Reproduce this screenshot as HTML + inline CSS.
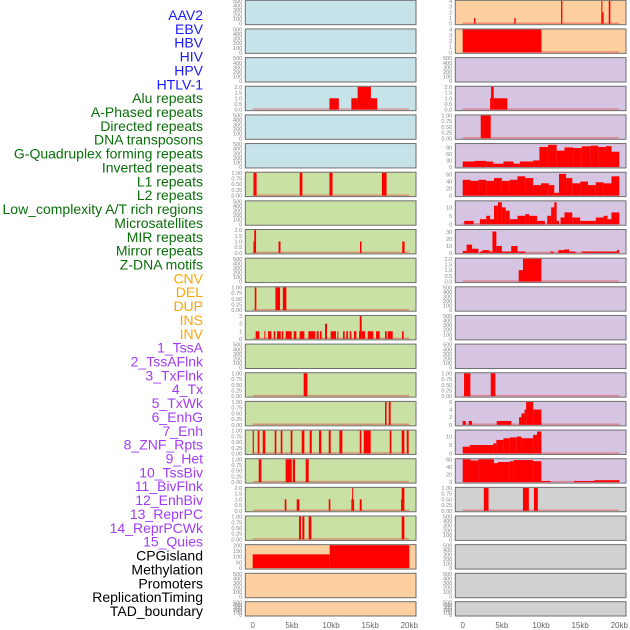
<!DOCTYPE html>
<html><head><meta charset="utf-8">
<style>
html,body{margin:0;padding:0;background:#fff;width:630px;height:630px;overflow:hidden}
svg{display:block}
.lab{font-family:"Liberation Sans",sans-serif;font-size:14px}
.tk{font-family:"Liberation Sans",sans-serif;font-size:5.6px;fill:#888}
.xt{font-family:"Liberation Sans",sans-serif;font-size:8px;fill:#666}
</style></head>
<body>
<svg id="chart" width="630" height="630" viewBox="0 0 630 630" xmlns="http://www.w3.org/2000/svg"></svg>
<script>
// ---- labels ----
const trackLabels = ["AAV2","EBV","HBV","HIV","HPV","HTLV-1","Alu repeats","A-Phased repeats","Directed repeats","DNA transposons","G-Quadruplex forming repeats","Inverted repeats","L1 repeats","L2 repeats","Low_complexity A/T rich regions","Microsatellites","MIR repeats","Mirror repeats","Z-DNA motifs","CNV","DEL","DUP","INS","INV","1_TssA","2_TssAFlnk","3_TxFlnk","4_Tx","5_TxWk","6_EnhG","7_Enh","8_ZNF_Rpts","9_Het","10_TssBiv","11_BivFlnk","12_EnhBiv","13_ReprPC","14_ReprPCWk","15_Quies","CPGisland","Methylation","Promoters","ReplicationTiming","TAD_boundary"];
const labelGroups = ["virus","virus","virus","virus","virus","virus","rep","rep","rep","rep","rep","rep","rep","rep","rep","rep","rep","rep","rep","sv","sv","sv","sv","sv","hmm","hmm","hmm","hmm","hmm","hmm","hmm","hmm","hmm","hmm","hmm","hmm","hmm","hmm","hmm","oth","oth","oth","oth","oth"];
const xTickValues = [0,5,10,15,20];
const xTickLabels = ["0","5kb","10kb","15kb","20kb"];
// ---- left column panel data: [startKb, endKb, value] ----
const L4 = [[9.8,11.0,1],[12.6,13.4,1],[13.4,15.1,2],[15.1,15.9,1]];
const L7 = [[0.1,0.5,1],[6.0,6.35,1],[9.8,10.2,1],[16.5,17.1,1]];
const L9 = [[0.1,0.2,1],[0.2,0.43,2],[3.3,3.55,1],[13.7,13.9,1],[19.1,19.4,1]];
const L11 = [[0.26,0.47,1],[2.9,3.5,1],[3.85,4.3,1]];
const L12 = [[0.38,0.85,1],[1.49,1.62,1],[1.96,2.38,1],[2.68,2.89,1],[3.11,3.58,1],[3.7,3.92,1],[4.21,4.98,1],[5.24,5.58,1],[6.0,6.6,1],[7.11,8.0,1],[8.17,8.43,1],[8.6,8.81,1],[9.24,9.49,2],[9.96,10.64,1],[10.81,10.94,1],[11.54,11.75,1],[11.96,12.18,1],[12.39,12.6,1],[12.94,13.24,1],[13.58,13.67,1],[13.67,13.92,3],[13.92,14.35,1],[14.69,15.41,1],[15.75,16.22,1],[16.9,17.11,1],[17.24,17.88,1],[19.07,19.28,1]];
const L14 = [[6.51,6.98,1]];
const L15 = [[16.9,17.1,1],[17.37,17.62,1]];
const L16 = [[0,0.15,1],[0.64,0.85,1],[1.28,1.62,1],[2.81,3.02,1],[3.58,3.79,1],[4.85,5.07,1],[6.26,6.6,1],[7.28,7.54,1],[8.47,8.77,1],[9.71,9.96,1],[11.07,11.45,1],[13.67,13.88,1],[14.18,15.07,1],[17.5,17.71,1],[19.03,19.37,1],[19.67,19.92,1]];
const L17 = [[0.77,1.11,1],[4.21,4.98,1],[5.11,5.41,1],[6.77,7.15,1]];
const L18 = [[4.09,4.3,1],[5.62,5.96,1],[9.71,9.92,1],[12.6,12.7,1],[12.7,12.8,2],[12.8,12.95,1],[13.67,13.92,1],[18.95,19.03,1],[19.03,19.37,2]];
const L19 = [[5.92,6.17,1],[6.34,6.6,1],[7.15,7.49,1],[19.03,19.37,1]];
const L20 = [[0,9.83,120],[9.83,20.0,200]];
// ---- right column panel data ----
const R1 = [[1.45,1.62,1],[6.6,6.77,1],[12.56,12.73,4],[17.7,17.84,4],[17.84,18.0,2],[18.65,18.86,4]];
const R2 = [[0,10.05,4]];
const R4 = [[3.5,3.62,1],[3.62,3.96,2],[3.96,5.7,1]];
const R5 = [[2.3,3.58,1]];
const R6 = [[0,1.5,25],[1.5,3,28],[3,3.9,25],[3.9,5.2,15],[5.2,6.5,25],[6.5,7.3,15],[7.3,9,25],[9,9.8,30],[9.8,10.9,92],[10.9,12,102],[12,13,75],[13,14.1,90],[14.1,15.2,87],[15.2,16.3,95],[16.3,17.3,98],[17.3,18.3,92],[18.3,19,96],[19,20,70]];
const R7 = [[0,1,45],[1,2,42],[2,3,45],[3,4,42],[4,5,50],[5,6,42],[6,7,45],[7,8,55],[8,9,50],[9,10,30],[10,11,35],[11,11.7,30],[11.7,12.3,8],[12.3,13.2,62],[13.2,14,50],[14,15,35],[15,16,40],[16,17,30],[17,18,38],[18,19,35],[19,20,55]];
const R8 = [[0.2,1.4,2],[2.2,3,3],[3,3.5,5],[3.5,4,3],[4,4.5,11],[4.5,5,13],[5,5.5,10],[5.5,6,8],[6,7,3],[7,8,5],[8,8.5,6],[8.5,9.5,5],[9.5,10.5,2],[10.8,11.3,5],[11.3,11.7,10],[11.7,12,13],[12,12.3,2],[12.5,13,4],[13,14,7],[14,15,4],[15,16,2],[16,17,2],[17,18,4],[18,18.5,5],[18.5,19,3],[19,20,7]];
const R9 = [[0,0.5,3],[0.5,1.2,12],[1.2,2,6],[2.2,2.5,2],[2.5,3.4,4],[3.4,3.8,2],[3.8,4.3,31],[4.3,5,10],[5,6.2,2],[6.2,7,10],[7,8,2],[11.2,11.6,2],[12.2,13,4],[13,13.6,5],[13.6,14.4,2],[15.2,17,2],[17,19.7,2],[19.7,20,4]];
const R10 = [[7.15,7.7,1],[7.7,10.05,2]];
const R14 = [[0.17,0.98,1],[3.58,4.17,1]];
const R15 = [[0,0.4,1],[0.77,1.2,1],[4.35,6.2,1],[7.2,7.5,2],[7.5,7.9,3],[7.9,8.1,4],[8.1,9,6],[9,10.05,4]];
const R16 = [[0,0.9,4],[0.9,3.9,5],[3.9,4.3,6],[4.3,5.2,8],[5.2,6,9],[6,6.9,9.5],[6.9,7.5,10],[7.5,9,9],[9,9.5,11],[9.5,10.05,13]];
const R17 = [[0,1,60],[1,2,57],[2,4,60],[4,4.5,50],[4.5,6,53],[6,6.5,55],[6.5,9,58],[9,10.05,55],[10.05,11.2,3],[14.2,16.8,3],[16.8,20,5]];
const R18 = [[2.7,3.3,1],[7.7,8.45,1],[9.1,9.6,1]];
// ---- panel definitions: data, ymax, tick values ----
const emptyTicks = [0,100,200,300,400,500];
const leftData = [null,null,null,L4,null,null,L7,null,L9,null,L11,L12,null,L14,L15,L16,L17,L18,L19,L20,null,null];
const leftMax = [500,500,500,2,500,500,1,500,2,500,1,3,500,1,1,1,1,2,1,200,500,500];
const leftTicks = [emptyTicks,emptyTicks,emptyTicks,[0,0.5,1,1.5,2],emptyTicks,emptyTicks,[0,0.25,0.5,0.75,1],emptyTicks,[0,0.5,1,1.5,2],emptyTicks,[0,0.25,0.5,0.75,1],[0,1,2,3],emptyTicks,[0,0.25,0.5,0.75,1],[0,0.25,0.5,0.75,1],[0,0.25,0.5,0.75,1],[0,0.25,0.5,0.75,1],[0,0.5,1,1.5,2],[0,0.25,0.5,0.75,1],[0,50,100,150,200],emptyTicks,emptyTicks];
const leftBg = ["b","b","b","b","b","b","g","g","g","g","g","g","g","g","g","g","g","g","g","o","o","o"];
const rightData = [R1,R2,null,R4,R5,R6,R7,R8,R9,R10,null,null,null,R14,R15,R16,R17,R18,null,null,null,null];
const rightMax = [4,4,500,2,1,105,65,13.5,33,2,500,500,500,1,6,13.5,60,1,500,500,500,500];
const rightTicks = [[0,1,2,3,4],[0,1,2,3,4],emptyTicks,[0,0.5,1,1.5,2],[0,0.25,0.5,0.75,1],[0,30,60,90],[0,20,40,60],[0,5,10],[0,10,20,30],[0,0.5,1,1.5,2],emptyTicks,emptyTicks,emptyTicks,[0,0.25,0.5,0.75,1],[0,2,4,6],[0,5,10],[0,20,40,60],[0,0.25,0.5,0.75,1],emptyTicks,emptyTicks,emptyTicks,emptyTicks];
const rightBg = ["o","o","p","p","p","p","p","p","p","p","p","p","p","p","p","p","p","y","y","y","y","y"];

const NS="http://www.w3.org/2000/svg";
const svg=document.getElementById('chart');
const bgColors={b:"#c7e3ea",g:"#c9e1a5",o:"#fecf9f",p:"#d6c5e2",y:"#d1d1d1"};
const groupColors={virus:"#1a1aff",rep:"#0a6e0a",sv:"#ffa500",hmm:"#a23cf5",oth:"#000"};
function el(t,a){const e=document.createElementNS(NS,t);for(const k in a)e.setAttribute(k,a[k]);svg.appendChild(e);return e;}
function fmt(v,ticks){const mx=Math.max(...ticks);if(mx<=1)return v.toFixed(2);if(mx<=2)return v.toFixed(1);return String(v);}

// labels
trackLabels.forEach((t,i)=>{
  const e=el('text',{x:203,y:15+i*13.86+5,'text-anchor':'end',class:'lab',fill:groupColors[labelGroups[i]]});
  e.textContent=t;
  
  
});

function rowTop(i){return i<21?0.3+i*28.65:601.7;}
function rowH(i){return i<21?24.4:14.3;}

function drawPanel(col,i,data,ymax,ticks,bg){
  const px0=col===0?245.3:455.3, px1=col===0?416:626;
  const x0=col===0?252.7:462.7, kx=7.83;
  const top=rowTop(i), h=rowH(i), bot=top+h;
  const yTop=top+0.6, yBot=bot-1;
  const xs=v=>x0+v*kx;
  const ys=v=>yBot-(v/ymax)*(yBot-yTop);
  const r=el('rect',{x:px0,y:top,width:px1-px0,height:h,fill:bgColors[bg],stroke:"#6e6e6e","stroke-width":1});
  
  
  ticks.forEach(v=>{
    const t=el('text',{x:px0-3,y:ys(v)+2,'text-anchor':'end',class:'tk'});
    t.textContent=fmt(v,ticks);
    
    
  });
  if(!data)return;
  const base=el('line',{x1:xs(0),x2:xs(20),y1:yBot-0.5,y2:yBot-0.5,stroke:"rgba(230,60,60,0.45)","stroke-width":1.5});
  
  
  data.forEach(d=>{
    const b=el('rect',{x:xs(d[0]),y:ys(d[2]),width:Math.max(1,xs(d[1])-xs(d[0])),height:yBot-ys(d[2]),fill:"#ff0000"});
    
    
  });
}
for(let i=0;i<22;i++){
  drawPanel(0,i,leftData[i],leftMax[i],leftTicks[i],leftBg[i]);
  drawPanel(1,i,rightData[i],rightMax[i],rightTicks[i],rightBg[i]);
}
// x axes
[252.7,462.7].forEach((x0,c)=>{
  xTickValues.forEach((v,j)=>{
    const t=el('text',{x:x0+v*7.83,y:628,'text-anchor':'middle',class:'xt'});
    t.textContent=xTickLabels[j];
    
    
  });
});
</script>
</body></html>
